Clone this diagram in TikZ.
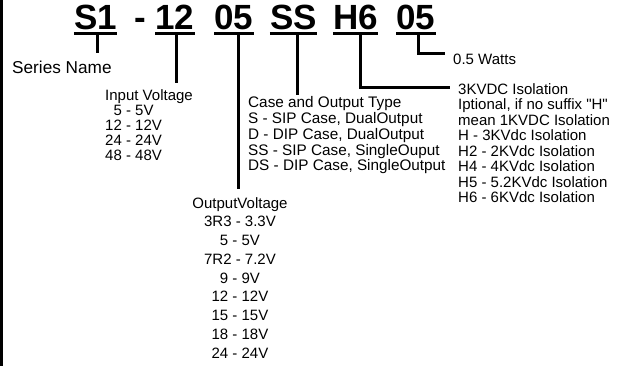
\documentclass[tikz,border=0pt]{standalone}
\usepackage{fontspec}
\setmainfont{Liberation Sans}
\begin{document}
\begin{tikzpicture}[x=1pt,y=-1pt,
  title/.style={font=\fontsize{35}{40}\selectfont\bfseries, inner sep=0pt, anchor=base},
  lbl/.style={inner sep=0pt, anchor=base west},
  uline/.style={line width=3pt},
  conn/.style={line width=3pt},
]
\useasboundingbox (0,0) rectangle (621,366);
\fill[black] (0,0) rectangle (2.6,366);
% title parts
\node[title] (tS1) at (95.5,30) {S1};
\node[title] (tdash) at (140,30) {-};
\node[title] (t12) at (175,30) {12};
\node[title] (t05) at (234,30) {05};
\node[title] (tSS) at (293.5,30) {SS};
\node[title] (tH6) at (355.5,30) {H6};
\node[title] (tW) at (416,30) {05};
\foreach \n in {tS1,t12,t05,tSS,tH6,tW}
  \draw[uline] ([yshift=-3.5pt]\n.base west) -- ([yshift=-3.5pt]\n.base east);
% labels
\node[lbl, font=\fontsize{17.2}{18}\selectfont] (series) at (12,74) {Series Name};
\node[lbl, font=\fontsize{15}{15}\selectfont] (input) at (105,101)
  {\begin{tabular}[t]{@{}r@{ - }l@{}}\multicolumn{2}{@{}l@{}}{Input Voltage}\\
   5&5V\\ 12&12V\\ 24&24V\\ 48&48V\end{tabular}};
\node[anchor=base, inner sep=0pt, font=\fontsize{15}{18.75}\selectfont] (output) at (240,208)
  {\begin{tabular}[t]{@{}c@{}}OutputVoltage\\ 3R3 - 3.3V\\ 5 - 5V\\ 7R2 - 7.2V\\ 9 - 9V\\
   12 - 12V\\ 15 - 15V\\ 18 - 18V\\ 24 - 24V\end{tabular}};
\node[lbl, font=\fontsize{15.3}{15.5}\selectfont] (case) at (248,108)
  {\begin{tabular}[t]{@{}l@{}}Case and Output Type\\ S - SIP Case, DualOutput\\
   D - DIP Case, DualOutput\\ SS - SIP Case, SingleOuput\\ DS - DIP Case, SingleOutput\end{tabular}};
\node[lbl, font=\fontsize{15}{15.3}\selectfont] (iso) at (458,94.5)
  {\begin{tabular}[t]{@{}l@{}}3KVDC Isolation\\ Iptional, if no suffix \textquotedbl H\textquotedbl\\
   mean 1KVDC Isolation\\ H - 3KVdc Isolation\\ H2 - 2KVdc Isolation\\
   H4 - 4KVdc Isolation\\ H5 - 5.2KVdc Isolation\\ H6 - 6KVdc Isolation\end{tabular}};
\node[lbl, font=\fontsize{15}{15}\selectfont] (watts) at (453,65) {0.5 Watts};
% free ends
\coordinate (eS1) at (97,53);
\coordinate (e12) at (176,83);
\coordinate (e05) at (238,189);
\coordinate (eSS) at (297,95);
\coordinate (eH6) at (360,35);
\coordinate (eW) at (418,35);
% connectors
\draw[conn] ([yshift=-3.5pt]tS1.base -| eS1) -- (eS1);
\draw[conn] ([yshift=-3.5pt]t12.base -| e12) -- (e12);
\draw[conn] ([yshift=-3.5pt]t05.base -| e05) -- (e05);
\draw[conn] ([yshift=-3.5pt]tSS.base -| eSS) -- (eSS);
\draw[conn] ([yshift=-3.5pt]tH6.base -| eH6) |- ([xshift=-8pt,yshift=6.5pt]iso.base west);
\draw[conn] ([yshift=-3.5pt]tW.base -| eW) |- ([xshift=-8pt,yshift=11pt]watts.base west);
\end{tikzpicture}
\end{document}
